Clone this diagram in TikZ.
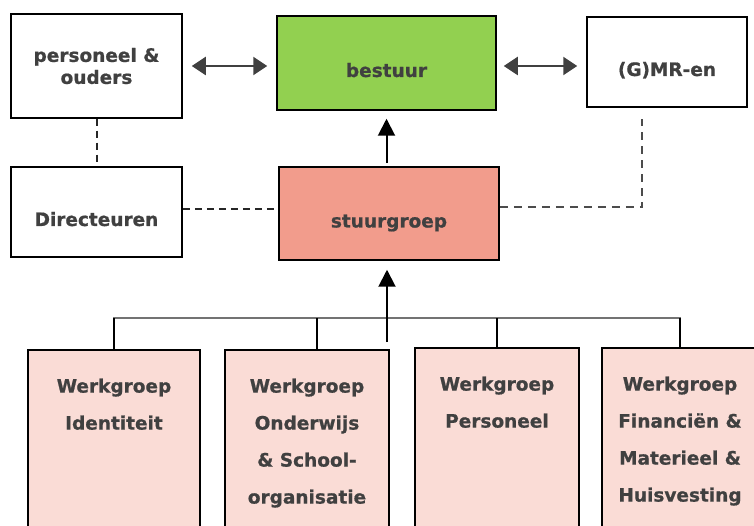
\documentclass[tikz,border=0pt]{standalone}
\usepackage{fontspec}
\setmainfont[BoldFeatures={FakeBold=0.8}]{DejaVu Sans}
\usepackage{xcolor}
\usepackage{tikz}
\usetikzlibrary{
  arrows.meta,
  positioning
}
\definecolor{txtgray}{RGB}{64,64,64}
\definecolor{bestuurgreen}{RGB}{146,208,80}
\definecolor{stuurred}{RGB}{242,156,140}
\definecolor{wgpink}{RGB}{250,220,214}

\begin{document}
\begin{tikzpicture}[x=1pt,y=-1pt,
  every node/.style={font=\fontsize{18.5}{22}\selectfont\bfseries,text=txtgray,align=center},
  box/.style={rectangle,draw=black,line width=1.5pt,inner sep=0pt},
  low/.style={text height=28pt,text depth=0pt},
  wgbox/.style={box,fill=wgpink,anchor=north,minimum height=220pt},
  wgtext/.style={anchor=north,yshift=-26pt,font=\fontsize{18.5}{37}\selectfont\bfseries},
  dblarrow/.style={{Triangle[length=14pt,width=18pt]}-{Triangle[length=14pt,width=18pt]},line width=2pt,draw=txtgray},
  uparrow/.style={-{Triangle[length=17pt,width=17pt]},line width=2pt,draw=black},
  dashline/.style={line width=2pt,draw=black!85,dash pattern=on 7pt off 5pt},
  dashgray/.style={line width=2pt,draw=black!70,dash pattern=on 8pt off 6pt},
  busline/.style={line width=1.5pt,draw=black!55},
  stem/.style={line width=1.5pt,draw=black}
]
  \useasboundingbox (0,0) rectangle (754,526);
  \clip (0,0) rectangle (754,526);

  % top row
  \node[box,fill=white,minimum width=171pt,minimum height=104pt] (0) at (96.5,66) {personeel \&\\ouders};
  \node[box,low,fill=bestuurgreen,minimum width=219pt,minimum height=94pt] (1) at (386.5,63) {bestuur};
  \node[box,low,fill=white,minimum width=160pt,minimum height=90pt] (2) at (667,62) {(G)MR-en};
  \draw[dblarrow,shorten <=9pt,shorten >=9pt] (0.east) -- (0.east -| 1.west);
  \draw[dblarrow,shorten <=7pt,shorten >=9pt] (1.east |- 0.east) -- (2.west |- 0.east);

  % middle row
  \node[box,low,fill=white,minimum width=171pt,minimum height=90pt] (3) at (96.5,212) {Directeuren};
  \node[box,low,fill=stuurred,minimum width=220pt,minimum height=93pt] (4) at (389,213.5) {stuurgroep};
  \draw[uparrow,shorten <=3pt,shorten >=8pt] (4.north -| 1.south) -- (1.south);
  \draw[dashline] (0.south) -- (3.north);
  \draw[dashline] ([yshift=3pt]3.east) -- ([yshift=3pt]3.east -| 4.west);
  \coordinate (9) at (642,119);
  \draw[dashgray] ([yshift=6pt]4.east) -| (9);

  % werkgroepen
  \node[wgbox,minimum width=172pt,label={[wgtext,name=5t]north:Werkgroep\\Identiteit}] (5) at (114,349) {};
  \node[wgbox,minimum width=164pt,label={[wgtext,name=6t]north:Werkgroep\\Onderwijs\\\& School-\\organisatie}] (6) at (307,349) {};
  \node[wgbox,minimum width=164pt,label={[wgtext,name=7t]north:Werkgroep\\Personeel}] (7) at (497,347) {};
  \node[wgbox,minimum width=164pt,label={[wgtext,name=8t,xshift=-4pt]north:Werkgroep\\Financiën \&\\Materieel \&\\Huisvesting}] (8) at (684,347) {};

  \coordinate (10) at (387,318);
  \draw[busline] ([xshift=-1pt]5.north |- 10) -- ([xshift=-3pt]8.north |- 10);
  \draw[stem] (5.north) -- (5.north |- 10);
  \draw[stem] ([xshift=10pt]6.north) -- ([xshift=10pt]6.north |- 10);
  \draw[stem] (7.north) -- (7.north |- 10);
  \draw[stem] ([xshift=-4pt]8.north) -- ([xshift=-4pt]8.north |- 10);
  \coordinate (11) at (387,342);
  \draw[uparrow,shorten >=9pt] (11) -- (11 |- 4.south);
\end{tikzpicture}
\end{document}
